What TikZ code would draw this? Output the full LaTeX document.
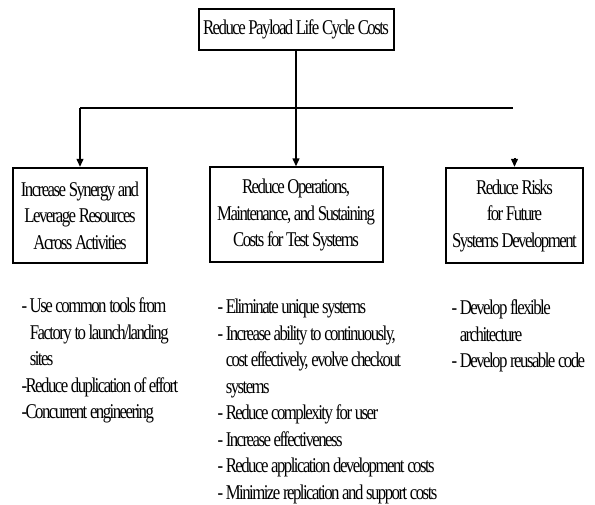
\documentclass[tikz,border=0pt]{standalone}
\usepackage{fontspec}
\setmainfont{Liberation Serif}[FakeStretch=0.8,LetterSpace=-7.3]
\usetikzlibrary{arrows.meta}

\begin{document}
\begin{tikzpicture}
[x=1pt,y=1pt,>={Triangle[length=8pt,width=6.5pt]},line width=2pt,
box/.style={draw,line width=2pt,align=center,inner sep=0pt,font=\fontsize{21}{26.5}\selectfont},
list/.style={align=left,inner sep=0pt,anchor=north west,font=\fontsize{21}{26.5}\selectfont},]

\useasboundingbox (0,0) rectangle (595,504);

%Goal and sub-goal boxes
\node (goal) at (296,474.5)[box,minimum width=195pt,minimum height=41pt] {Reduce Payload Life Cycle Costs};
\node (synergy) at (80,288.5)[box,minimum width=134pt,minimum height=95pt] {Increase Synergy and\\Leverage Resources\\Across Activities};
\node (ops) at (296,289)[box,minimum width=173pt,minimum height=95pt] {Reduce Operations,\\Maintenance, and Sustaining\\Costs for Test Systems};
\node (risks) at (514.5,288.5)[box,minimum width=137pt,minimum height=95pt] {Reduce Risks\\for Future\\Systems Development};

%Branch points
\coordinate (J1) at (80,396);
\coordinate (J2) at (513,396);
\coordinate (R1) at (514.5,346);

%Drawing connectors
\draw[->] (goal) -- (ops);
\draw (J1) -- (J2);
\draw[->] (J1) -- (synergy);
\draw[->] (R1) -- (risks);

%Bullet lists
\node (synlist) at (20.5,207)[list] {- Use common tools from\\\hphantom{- }Factory to launch/landing\\\hphantom{- }sites\\-Reduce duplication of effort\\-Concurrent engineering};
\node (opslist) at (216.5,206)[list] {- Eliminate unique systems\\- Increase ability to continuously,\\\hphantom{- }cost effectively, evolve checkout\\\hphantom{- }systems\\- Reduce complexity for user\\- Increase effectiveness\\- Reduce application development costs\\- Minimize replication and support costs};
\node (risklist) at (450.5,205)[list] {- Develop flexible\\\hphantom{- }architecture\\- Develop reusable code};

\end{tikzpicture}
\end{document}
